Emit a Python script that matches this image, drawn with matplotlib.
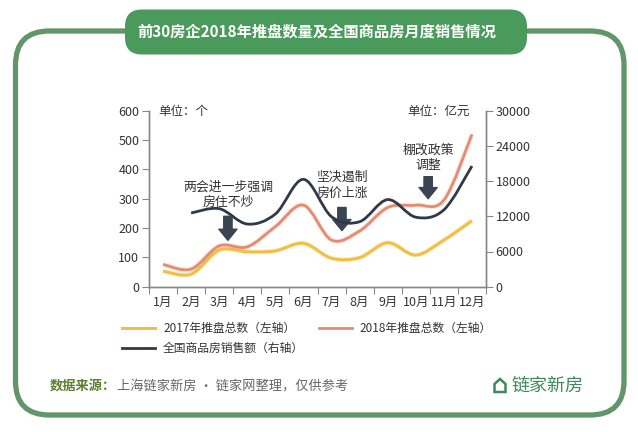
import numpy as np
import matplotlib.pyplot as plt
from matplotlib.path import Path
from matplotlib.patches import PathPatch, FancyBboxPatch, FancyArrowPatch, Polygon
from matplotlib.lines import Line2D

plt.rcParams['font.family'] = ['Noto Sans CJK SC', 'DejaVu Sans']

# 数据
months = ['1月', '2月', '3月', '4月', '5月', '6月', '7月', '8月', '9月', '10月', '11月', '12月']
supply_2017 = [53, 43, 125, 119, 122, 148, 97, 99, 150, 108, 159, 225]
supply_2018 = [76, 60, 139, 136, 205, 278, 159, 190, 270, 278, 295, 519]
sales_start = 1  # 销售额从2月开始
sales = [12560, 13300, 10680, 12390, 18300, 11930, 11080, 14850, 11850, 13100, 20570]

left_ticks = [0, 100, 200, 300, 400, 500, 600]
right_ticks = [0, 6000, 12000, 18000, 24000, 30000]

notes = ['两会进一步强调\n房住不炒', '坚决遏制\n房价上涨', '棚改政策\n调整']
note_x = [2.31, 6.37, 9.44]
note_y = [313, 345, 439]
arrow_top = [240, 270, 375]
arrow_tip = [158, 191, 300]

c_2017 = '#F0BF45'
c_2018 = '#E58B70'
c_sales = '#2E3A48'
c_arrow = '#3A4452'
green_frame = '#62956A'
green_title = '#4A9A5B'


def smooth_path(xs, ys):
    # Excel 风格的平滑线：分段三次贝塞尔
    pts = np.column_stack([xs, ys]).astype(float)
    ext = np.vstack([pts[0], pts, pts[-1]])
    verts = [pts[0]]
    codes = [Path.MOVETO]
    for i in range(len(pts) - 1):
        p0, p1, p2, p3 = ext[i], ext[i + 1], ext[i + 2], ext[i + 3]
        verts += [p1 + (p2 - p0) / 6, p2 - (p3 - p1) / 6, p2]
        codes += [Path.CURVE4] * 3
    return Path(verts, codes)


W, H = 638, 432
fig = plt.figure(figsize=(W / 100, H / 100), dpi=100)

# 背景层：边框、标题、来源
bg = fig.add_axes([0, 0, 1, 1], zorder=0)
bg.set_xlim(0, W)
bg.set_ylim(H, 0)
bg.axis('off')
bg.add_patch(FancyBboxPatch((15.5, 31), 608.5, 384, boxstyle='round,pad=0,rounding_size=34',
                            fill=False, edgecolor=green_frame, lw=3.8))
bg.add_patch(FancyBboxPatch((125, 9.5), 402, 45, boxstyle='round,pad=0,rounding_size=17',
                            facecolor=green_title, edgecolor='none'))
bg.text(317, 32, '前30房企2018年推盘数量及全国商品房月度销售情况', color='white',
        fontsize=11, fontweight='bold', ha='center', va='center')
bg.text(50, 386, '数据来源：', color='#5B7F2E', fontsize=9.5, fontweight='bold',
        ha='left', va='center')
bg.text(117, 386, '上海链家新房 · 链家网整理，仅供参考', color='#666666', fontsize=9.5,
        ha='left', va='center')
bg.add_patch(Polygon([(494.5, 392), (494.5, 384), (500, 379), (505.5, 384), (505.5, 392)],
                     closed=True, fill=False, edgecolor='#3D8A5C', lw=1.8))
bg.text(512, 386, '链家新房', color='#3D8A5C', fontsize=13, ha='left', va='center')

# 主图
ax = fig.add_axes([149 / W, 1 - 286.7 / H, 337 / W, 176 / H], zorder=1)
ax.patch.set_alpha(0)
ax2 = ax.twinx()

x = np.arange(len(months))
for vals, col, lw in ((supply_2017, c_2017, 2.2), (supply_2018, c_2018, 2.0)):
    p = smooth_path(x, vals)
    ax.add_patch(PathPatch(p, fill=False, edgecolor=col, lw=3.6, alpha=0.18))
    ax.add_patch(PathPatch(p, fill=False, edgecolor=col, lw=lw))
xs = x[sales_start:sales_start + len(sales)]
ax2.add_patch(PathPatch(smooth_path(xs, sales), fill=False, edgecolor=c_sales, lw=2.0))

ax.set_xlim(-0.5, 11.5)
ax.set_ylim(0, 600)
ax2.set_ylim(0, 30000)
ax.set_yticks(left_ticks)
ax2.set_yticks(right_ticks)
ax.set_xticks(np.arange(-0.5, 12, 1))
ax.set_xticklabels([])
ax.set_xticks(x, minor=True)
ax.set_xticklabels(months, minor=True)
ax.tick_params(axis='x', which='minor', length=0, pad=7, labelsize=9, labelcolor='#333333')
ax.tick_params(axis='x', which='major', length=5, color='#888888')
ax.tick_params(axis='y', length=5, color='#888888', labelsize=9, labelcolor='#333333', pad=2)
ax2.tick_params(axis='y', length=5, color='#888888', labelsize=9, labelcolor='#333333', pad=2)

for a in (ax, ax2):
    a.spines['top'].set_visible(False)
    for s in ('left', 'right', 'bottom'):
        a.spines[s].set_color('#888888')
        a.spines[s].set_linewidth(1.0)

ax.text(-0.18, 598, '单位：个', fontsize=9, color='#333333', ha='left', va='center')
ax.text(10.93, 598, '单位：亿元', fontsize=9, color='#333333', ha='right', va='center')

for t, nx, ny, y0, y1 in zip(notes, note_x, note_y, arrow_top, arrow_tip):
    ax.text(nx, ny, t, fontsize=9.3, color='#333333', ha='center', va='center', linespacing=1.3)
    ax.add_patch(FancyArrowPatch((nx, y0), (nx, y1), mutation_scale=1, shrinkA=0, shrinkB=0,
                                 arrowstyle='simple,head_length=8,head_width=13,tail_width=6',
                                 color=c_arrow))

handles = [Line2D([], [], color=c_2017, lw=2.2),
           Line2D([], [], color=c_sales, lw=2.0),
           Line2D([], [], color=c_2018, lw=2.0)]
labels = ['2017年推盘总数（左轴）', '全国商品房销售额（右轴）', '2018年推盘总数（左轴）']
fig.legend(handles, labels, ncol=2, loc='upper left', bbox_to_anchor=(122 / W, 1 - 322 / H),
           frameon=False, fontsize=8.5, handlelength=2.8, handletextpad=0.68, columnspacing=1.25,
           borderpad=0, borderaxespad=0, labelspacing=0.6, labelcolor='#333333')

fig.savefig('out.png', dpi=100)
